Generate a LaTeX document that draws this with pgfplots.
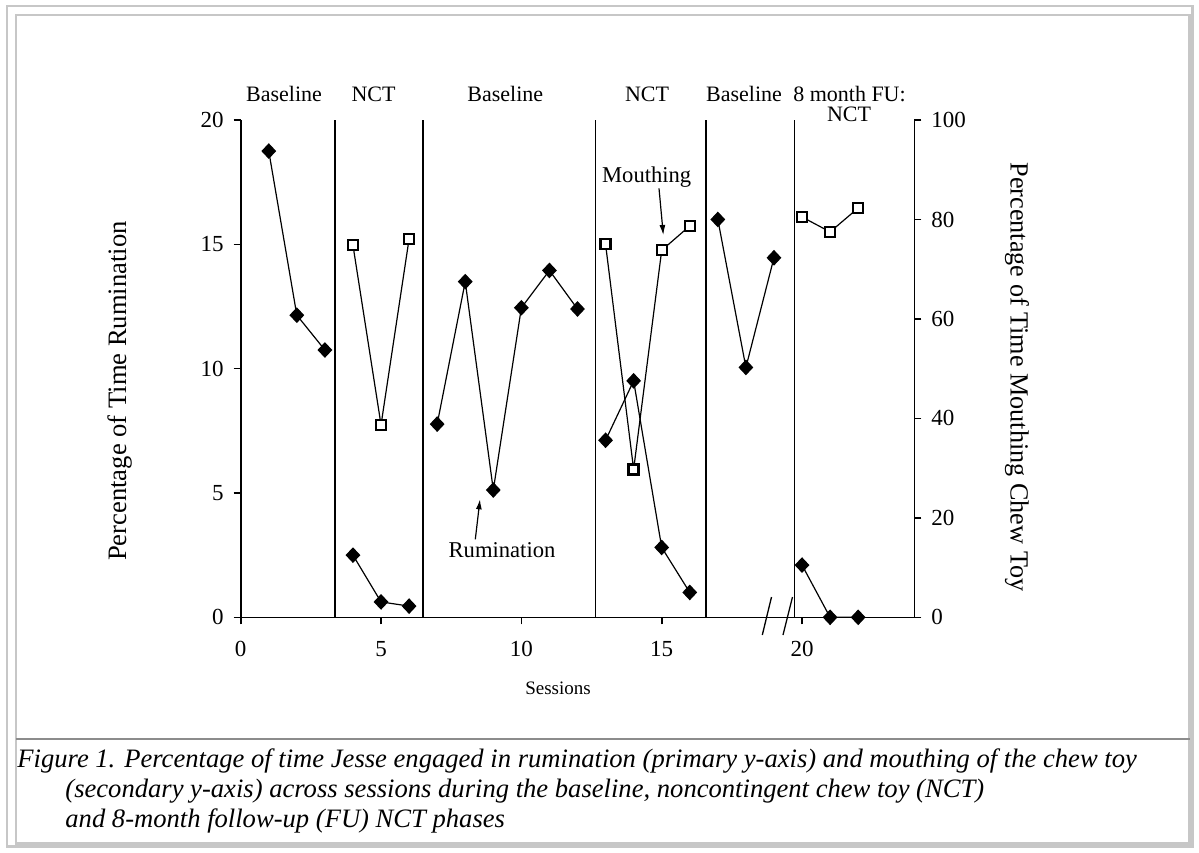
\documentclass[border=0pt]{standalone}
\usepackage{fontspec}
\setmainfont{Liberation Serif}
\usepackage{pgfplots}
\pgfplotsset{compat=1.18}
\usetikzlibrary{arrows.meta}
\begin{document}
\begin{tikzpicture}[x=0.5pt,y=-0.5pt]
\path[use as bounding box] (0,0) rectangle (1199,852);
% frame
\draw[black!22, line width=1.2pt] (6.7,5.7) rectangle (1192.5,846.5);
\draw[black!22, line width=1.2pt] (15.7,14.7) rectangle (1189.5,843.5);
\draw[black!45, line width=0.8pt] (15.7,739) -- (1189.5,739);
\begin{axis}[
  scale only axis, width=336.8pt, height=248.65pt,
  at={(120.35pt,-308.65pt)}, anchor=south west,
  xmin=0, xmax=24, ymin=0, ymax=20,
  axis x line*=bottom, axis y line*=left,
  axis line style={-, line width=0.8pt},
  xtick={0,5,10,15,20}, ytick={0,5,10,15,20},
  tick align=outside, major tick length=3.5pt,
  tick style={line width=0.8pt, black},
  /pgf/number format/assume math mode=true,
  tick label style={font=\fontsize{11.5}{13}\selectfont},
  xticklabel style={yshift=-5pt},
  yticklabel style={xshift=-1.5pt},
  clip=false,
]
\foreach \p in {3.36,6.5,12.65,16.58,19.72}{
  \edef\tmp{\noexpand\draw[line width=0.65pt] (axis cs:\p,0) -- (axis cs:\p,20);}\tmp
}
\pgfplotsset{rum/.style={black, line width=0.6pt, mark=diamond*, mark size=3.5pt, mark options={xscale=1.25, solid, fill=black}}}
\addplot[rum] coordinates {(1,18.75) (2,12.15) (3,10.75)};
\addplot[rum] coordinates {(4,2.5) (5,0.62) (6,0.45)};
\addplot[rum] coordinates {(7,7.77) (8,13.5) (9,5.12) (10,12.45) (11,13.95) (12,12.4)};
\addplot[rum] coordinates {(13,7.12) (14,9.51) (15,2.81) (16,1.0)};
\addplot[rum] coordinates {(17,16.0) (18,10.05) (19,14.46)};
\addplot[rum] coordinates {(20,2.1) (21,0) (22,0)};
\end{axis}
\begin{axis}[
  scale only axis, width=336.8pt, height=248.65pt,
  at={(120.35pt,-308.65pt)}, anchor=south west,
  xmin=0, xmax=24, ymin=0, ymax=100,
  axis x line=none, axis y line*=right,
  axis line style={-, line width=0.8pt},
  ytick={0,20,40,60,80,100},
  tick align=outside, major tick length=3.5pt,
  tick style={line width=0.8pt, black},
  /pgf/number format/assume math mode=true,
  tick label style={font=\fontsize{11.5}{13}\selectfont},
  yticklabel style={xshift=1.5pt},
  clip=false,
]
\pgfplotsset{mou/.style={black, line width=0.6pt, mark=square*, mark size=2.5pt, mark options={solid, fill=white, line width=1.15pt}}}
\addplot[mou] coordinates {(4,74.8) (5,38.7) (6,76.1)};
\addplot[mou] coordinates {(13,75.0) (14,29.75) (15,73.8) (16,78.7)};
\addplot[mou] coordinates {(20,80.5) (21,77.5) (22,82.3)};
\end{axis}
% axis break marks
\draw[line width=0.65pt] (762.3,635) -- (771.5,597);
\draw[line width=0.65pt] (783,635) -- (792.5,597);
% phase labels
\begin{scope}[every node/.style={font=\fontsize{11}{12}\selectfont, inner sep=0pt}]
\node[anchor=base] at (284,101) {Baseline};
\node[anchor=base] at (373.5,101) {NCT};
\node[anchor=base] at (505.3,101) {Baseline};
\node[anchor=base] at (647,101) {NCT};
\node[anchor=base] at (744,101) {Baseline};
\node[anchor=base] at (849.5,101) {8 month FU:};
\node[anchor=base] at (849,121.7) {NCT};
\node[anchor=base, font=\fontsize{11.3}{12}\selectfont] at (646.7,182.7) {Mouthing};
\node[anchor=base, font=\fontsize{11.3}{12}\selectfont] at (502,557.3) {Rumination};
\node[font=\fontsize{9.5}{11}\selectfont] at (558,688) {Sessions};
\node[rotate=90, font=\fontsize{13.3}{14}\selectfont] at (120,391) {Percentage of Time Rumination};
\node[rotate=-90, font=\fontsize{13.1}{14}\selectfont] at (1017,377) {Percentage of Time Mouthing Chew Toy};
\end{scope}
\draw[-{Latex[length=5pt,width=3pt]}, line width=0.6pt] (659,188.3) -- (663.3,235);
\draw[-{Latex[length=5pt,width=3pt]}, line width=0.6pt] (475.3,539.3) -- (480,499.3);
% caption
\begin{scope}[every node/.style={font=\itshape\fontsize{13.3}{15}\selectfont, inner sep=0pt, anchor=base west}]
\node at (17,767) {Figure 1. Percentage of time Jesse engaged in rumination (primary y-axis) and mouthing of the chew toy};
\node at (65,797) {(secondary y-axis) across sessions during the baseline, noncontingent chew toy (NCT)};
\node at (65,827) {and 8-month follow-up (FU) NCT phases};
\end{scope}
\end{tikzpicture}
\end{document}
